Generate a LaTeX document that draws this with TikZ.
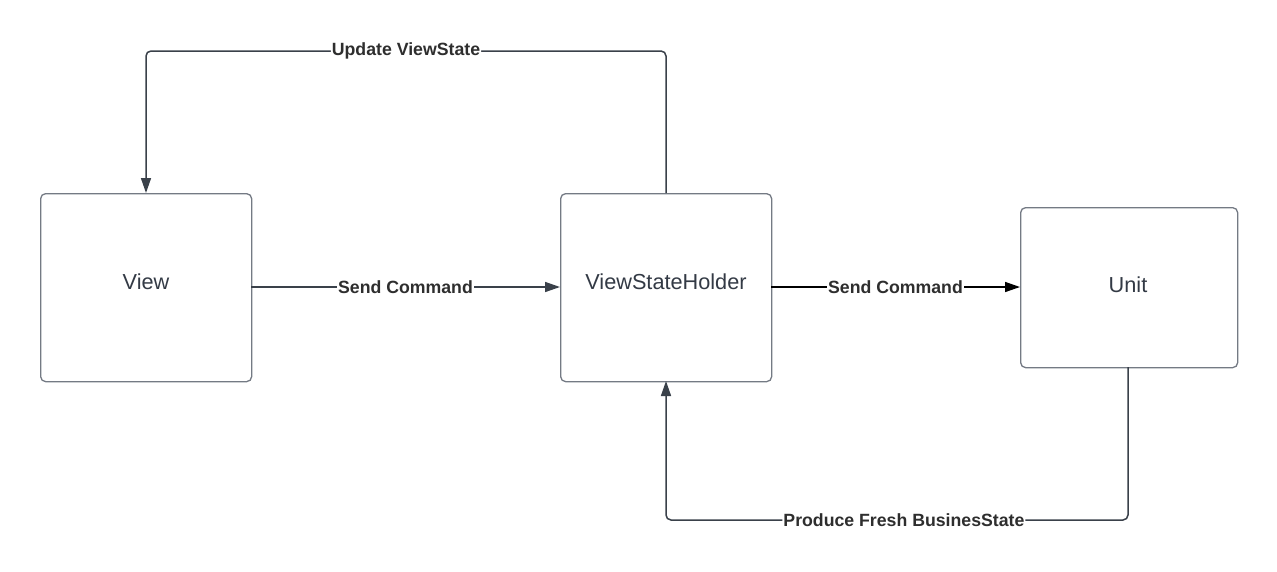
\documentclass[tikz,border=0pt]{standalone}
\usepackage{fontspec}
\setmainfont{Liberation Sans}
\usetikzlibrary{arrows.meta}
\definecolor{edgec}{HTML}{3A414A}
\definecolor{boxc}{HTML}{747A84}
\definecolor{txtc}{HTML}{333A45}
\definecolor{lblc}{HTML}{2E2E2E}
\tikzset{
  box/.style={draw=boxc, line width=1.3pt, rounded corners=5pt, fill=white,
    inner sep=0pt, anchor=north west},
  boxtext/.style={text=txtc, font=\fontsize{21.7}{24}\selectfont},
  conn/.style={draw=edgec, line width=1.5pt, rounded corners=5pt,
    -{Triangle[length=15pt,width=10pt]}},
  lbl/.style={fill=white, inner sep=1pt, text=lblc, font=\bfseries\fontsize{17.7}{20}\selectfont}
}
\begin{document}
\begin{tikzpicture}[x=1pt,y=-1pt]
\useasboundingbox (0,0) rectangle (1277,571);
\fill[white] (0,0) rectangle (1277,571);
\node[box, minimum width=211pt, minimum height=188pt] (view) at (40,193) {};
\node[boxtext] (viewt) at (146,282) {View};
\node[box, minimum width=211pt, minimum height=188pt] (vsh) at (560,193) {};
\node[boxtext] (vsht) at (666,282) {ViewStateHolder};
\node[box, minimum width=217pt, minimum height=160pt] (unit) at (1020,207) {};
\node[boxtext] (unitt) at (1128,285) {Unit};

\coordinate (a1) at (251,287);
\coordinate (a2) at (560,287);
\draw[conn] (a1) -- node[lbl, pos=0.5] (l1) {Send Command} (a2);

\coordinate (b1) at (771,287);
\coordinate (b2) at (1020,287);
\draw[conn, draw=black] (b1) -- node[lbl, pos=0.5] (l2) {Send Command} (b2);

\coordinate (c1) at (666,193);
\coordinate (c2) at (146,193);
\draw[conn] (c1) -- (666,51) -- node[lbl, pos=0.5] (l3) {Update ViewState} (146,51) -- (c2);

\coordinate (d1) at (1128,367);
\coordinate (d2) at (666,381);
\draw[conn] (d1) -- (1128,520) -- node[lbl, pos=0.485] (l4) {Produce Fresh BusinesState} (666,520) -- (d2);
\end{tikzpicture}
\end{document}
